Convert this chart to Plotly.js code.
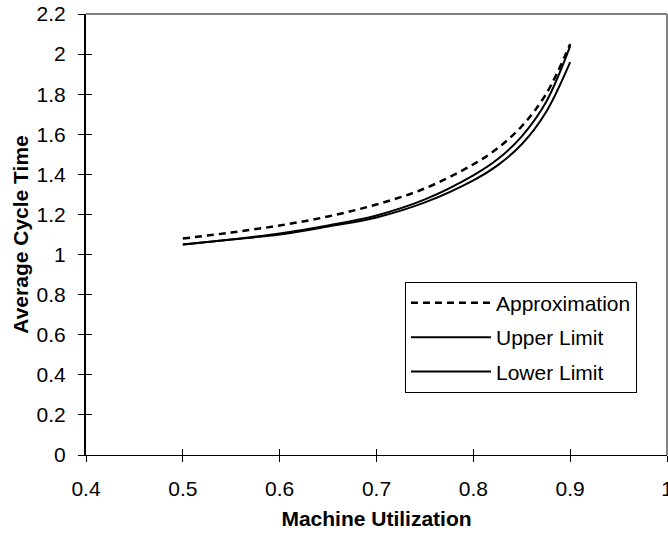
<!DOCTYPE html>
<html>
<head>
<meta charset="utf-8">
<script src="https://cdn.plot.ly/plotly-3.0.1.min.js"></script>
<style>html,body{margin:0;padding:0;background:#fff;}#chart{width:668px;height:535px;}</style>
</head>
<body>
<div id="chart"></div>
<script>
const utilization = [0.5, 0.55, 0.6, 0.65, 0.7, 0.75, 0.8, 0.825, 0.85, 0.875, 0.9];
const approximation = [1.08, 1.11, 1.145, 1.19, 1.25, 1.33, 1.45, 1.53, 1.64, 1.80, 2.05];
const upperLimit = [1.05, 1.075, 1.105, 1.145, 1.195, 1.275, 1.395, 1.475, 1.59, 1.76, 2.04];
const lowerLimit = [1.05, 1.075, 1.10, 1.14, 1.185, 1.26, 1.37, 1.445, 1.55, 1.71, 1.96];
const seriesNames = ["Approximation", "Upper Limit", "Lower Limit"];
const xTicks = [0.4, 0.5, 0.6, 0.7, 0.8, 0.9, 1];
const yTicks = [0, 0.2, 0.4, 0.6, 0.8, 1, 1.2, 1.4, 1.6, 1.8, 2, 2.2];

const font = "Liberation Sans, Arial, sans-serif";
const fs = 21;
const traces = [
  {x: utilization, y: approximation, name: seriesNames[0], legendgroup: "a",
   mode: "lines", line: {color: "#000", width: 2.5, dash: "7px,5px", shape: "spline"}},
  {x: utilization, y: upperLimit, name: seriesNames[1], legendgroup: "b",
   mode: "lines", line: {color: "#000", width: 2, shape: "spline"}},
  {x: utilization, y: lowerLimit, name: seriesNames[2], legendgroup: "c",
   mode: "lines", line: {color: "#000", width: 2, shape: "spline"}},
  {x: [0.4], y: [0], xaxis: "x2", yaxis: "y2", showlegend: false, hoverinfo: "skip",
   mode: "markers", marker: {opacity: 0}}
];

const layout = {
  width: 668, height: 535,
  margin: {l: 86, r: 1, t: 14, b: 80},
  paper_bgcolor: "#fff", plot_bgcolor: "#fff",
  font: {family: font, size: fs, color: "#000"},
  showlegend: true,
  legend: {x: 0.549, y: 0.393, xanchor: "left", yanchor: "top",
    bordercolor: "#000", borderwidth: 1, bgcolor: "#fff",
    font: {family: font, size: fs, color: "#000"},
    itemwidth: 80, traceorder: "grouped", tracegroupgap: 4},
  xaxis: {range: [0.4, 1], tickvals: xTicks, ticktext: xTicks.map(String),
    showgrid: false, zeroline: false, showline: true, linecolor: "#000", linewidth: 1,
    ticks: "outside", ticklen: 6, tickcolor: "#000", tickwidth: 1,
    ticklabelstandoff: 9, ticklabeloverflow: "allow",
    tickfont: {family: font, size: fs}, fixedrange: true,
    title: {text: "<b>Machine Utilization</b>", font: {family: font, size: fs}, standoff: 12}},
  yaxis: {range: [0, 2.2], tickvals: yTicks, ticktext: yTicks.map(String),
    showgrid: false, zeroline: false, showline: true, linecolor: "#000", linewidth: 2,
    ticks: "outside", ticklen: 6, tickcolor: "#000", tickwidth: 1,
    ticklabelstandoff: 8,
    tickfont: {family: font, size: fs}, fixedrange: true,
    title: {text: "<b>Average Cycle Time</b>", font: {family: font, size: fs}, standoff: 2}},
  xaxis2: {range: [0.4, 1], overlaying: "x", tickvals: xTicks, showticklabels: false,
    showgrid: false, zeroline: false, showline: false, ticks: "inside", ticklen: 6,
    tickcolor: "#000", tickwidth: 1, anchor: "y2", side: "bottom", fixedrange: true},
  yaxis2: {range: [0, 2.2], overlaying: "y", tickvals: yTicks, showticklabels: false,
    showgrid: false, zeroline: false, showline: false, ticks: "inside", ticklen: 6,
    tickcolor: "#000", tickwidth: 1, anchor: "x2", side: "left", fixedrange: true},
  shapes: [
    {type: "line", xref: "paper", yref: "paper", x0: 0, x1: 1, y0: 1, y1: 1,
     line: {color: "#808080", width: 2}},
    {type: "line", xref: "paper", yref: "paper", x0: 1, x1: 1, y0: 0, y1: 1,
     line: {color: "#808080", width: 2}}
  ]
};

Plotly.newPlot("chart", traces, layout, {displayModeBar: false, staticPlot: true});
</script>
</body>
</html>
